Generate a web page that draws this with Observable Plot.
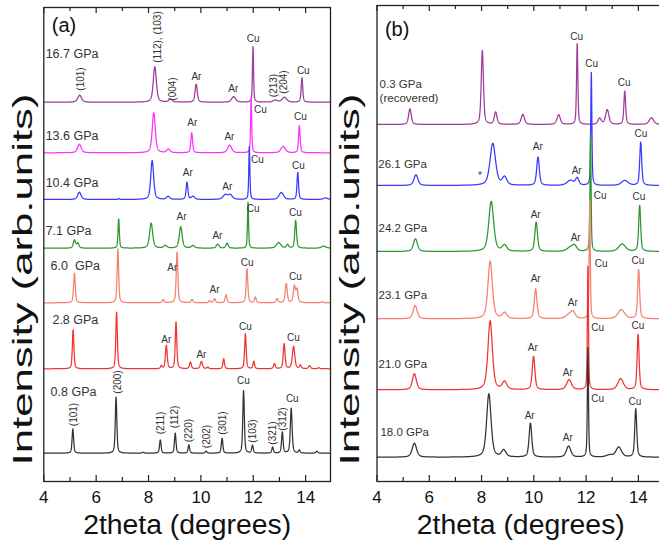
<!DOCTYPE html>
<html><head><meta charset="utf-8">
<script src="https://cdn.jsdelivr.net/npm/d3@7"></script>
<script src="https://cdn.jsdelivr.net/npm/@observablehq/plot@0.6"></script>
<style>
html,body{margin:0;padding:0;background:#fff;overflow:hidden;}
#wrap{position:relative;width:659px;height:544px;overflow:hidden;}
#wrap svg{position:absolute;top:0;}
#wrap text{white-space:pre;}
</style></head><body><div id="wrap"></div>
<script>
// ---------- axis ticks ----------
const ticksMajor = [4, 6, 8, 10, 12, 14];
const ticksMinor = [5, 7, 9, 11, 13];

// ---------- panel (a) ----------
const pressuresA = ["16.7 GPa", "13.6 GPa", "10.4 GPa", "7.1 GPa", "6.0  GPa", "2.8 GPa", "0.8 GPa"];
const offsetsA = [379.3, 328.7, 282, 233.3, 178.7, 112.7, 28.3];
const colorsA = ["#9c3c9c", "#ff30ff", "#3a3aff", "#2f962f", "#f5806e", "#f03434", "#333333"];
const pressureLabelPosA = [[4.07, 428], [4.07, 346], [4.07, 299.3], [4.07, 251], [4.26, 216], [4.33, 162.7], [4.26, 90]];
// peaks: [2theta, height, fwhm]
const peaks167 = [[5.37, 7, 0.17], [8.24, 35.5, 0.14], [8.84, 3, 0.15], [9.82, 18, 0.1], [11.25, 5.5, 0.18], [11.99, 55.7, 0.05], [12.84, 2, 0.2], [13.19, 5, 0.2], [13.86, 24.4, 0.07]];
const peaks136 = [[5.36, 8.5, 0.17], [8.2, 40, 0.14], [8.76, 3.5, 0.15], [9.65, 20, 0.08], [11.1, 7.5, 0.18], [11.92, 55, 0.05], [13.14, 6.3, 0.2], [13.76, 27, 0.07]];
const peaks104 = [[5.36, 7.3, 0.15], [6.86, 1, 0.05], [8.14, 39, 0.13], [8.75, 3, 0.15], [9.47, 17.3, 0.08], [9.7, 3, 0.15], [10.93, 4.5, 0.2], [11.12, 4.5, 0.2], [11.85, 53, 0.05], [13.07, 7, 0.2], [13.7, 27, 0.07], [14.76, 1.5, 0.2]];
const peaks71 = [[5.17, 8, 0.1], [5.3, 5, 0.1], [6.86, 29.3, 0.06], [8.1, 25, 0.14], [8.64, 2.5, 0.15], [9.23, 21.5, 0.13], [9.7, 2.5, 0.15], [10.64, 4, 0.12], [11.0, 5, 0.1], [11.8, 46, 0.05], [12.97, 5.5, 0.2], [13.31, 3.5, 0.1], [13.62, 27.7, 0.08], [14.69, 2, 0.2]];
const peaks60 = [[5.17, 29.7, 0.075], [6.83, 54, 0.07], [8.56, 3.3, 0.08], [9.09, 50.7, 0.075], [9.66, 3.5, 0.08], [10.33, 2, 0.08], [10.52, 4, 0.09], [10.96, 8, 0.08], [11.76, 34, 0.075], [12.08, 5.6, 0.08], [12.91, 4, 0.09], [13.26, 19, 0.09], [13.57, 16.3, 0.09], [13.67, 13, 0.09], [14.63, 1, 0.1]];
const peaks28 = [[5.12, 39, 0.07], [6.78, 56.7, 0.07], [8.49, 3, 0.07], [8.68, 23.3, 0.08], [9.05, 46.7, 0.07], [9.6, 6.7, 0.08], [10.02, 7.3, 0.1], [10.26, 1.5, 0.08], [10.87, 10, 0.07], [11.7, 35, 0.07], [12.02, 7.3, 0.07], [12.81, 5, 0.08], [13.18, 25, 0.08], [13.54, 22.3, 0.11], [13.8, 3.5, 0.08], [14.15, 3, 0.09], [14.5, 1, 0.09]];
const peaks08 = [[5.11, 24.3, 0.07], [6.76, 56, 0.07], [7.8, 0.8, 0.1], [8.45, 13.3, 0.07], [9.02, 20, 0.07], [9.54, 8.3, 0.07], [10.2, 2, 0.07], [10.81, 15, 0.07], [11.63, 62.7, 0.07], [11.97, 7.7, 0.07], [12.74, 6, 0.07], [13.11, 21, 0.07], [13.45, 45, 0.08], [13.76, 3, 0.07], [14.43, 2, 0.08]];
const patternsA = [peaks167, peaks136, peaks104, peaks71, peaks60, peaks28, peaks08];
// [text, 2theta, height, rotation]
const peakLabelsA = [
  ["(101)", 5.40, 402.5, -90], ["(112), (103)", 8.34, 444.5, -90], ["(004)", 8.91, 392.5, -90], ["Ar", 9.83, 405, 0], ["Ar", 11.24, 393, 0], ["Cu", 12.0, 443, 0], ["(213)", 12.77, 396, -90], ["(204)", 13.16, 399.5, -90], ["Cu", 13.91, 411, 0],
  ["Ar", 9.67, 358.3, 0], ["Ar", 11.09, 344.3, 0], ["Cu", 12.27, 372, 0], ["Cu", 13.8, 365, 0],
  ["Ar", 9.5, 308.5, 0], ["Ar", 11.01, 294.3, 0], ["Cu", 12.16, 322, 0], ["Cu", 13.72, 316, 0],
  ["Ar", 9.26, 264.3, 0], ["Ar", 10.63, 245.3, 0], ["Cu", 12.0, 272.7, 0], ["Cu", 13.61, 268.3, 0],
  ["Ar", 8.91, 213.3, 0], ["Ar", 10.52, 191.7, 0], ["Cu", 11.77, 218.7, 0], ["Cu", 13.61, 204.3, 0],
  ["Ar", 8.68, 142, 0], ["Ar", 10.02, 126.7, 0], ["Cu", 11.7, 154.3, 0], ["Cu", 13.53, 143.7, 0],
  ["(101)", 5.13, 67, -90], ["(200)", 6.81, 99.5, -90], ["(211)", 8.45, 58.5, -90], ["(112)", 8.99, 64.5, -90], ["(220)", 9.52, 51, -90], ["(202)", 10.21, 45, -90], ["(301)", 10.82, 58.5, -90], ["Cu", 11.62, 100.3, 0], ["(103)", 11.97, 50.5, -90], ["(321)", 12.73, 48.5, -90], ["(312)", 13.11, 62.5, -90], ["Cu", 13.49, 82.7, 0]
];

// ---------- panel (b) ----------
const pressuresB = ["0.3 GPa\n(recovered)", "26.1 GPa", "24.2 GPa", "23.1 GPa", "21.0 GPa", "18.0 GPa"];
const offsetsB = [357, 296, 230, 162.7, 91.7, 24.3];
const colorsB = ["#9c3c9c", "#3a3aff", "#2f962f", "#f5806e", "#f03434", "#333333"];
const pressureLabelPosB = [[4.1, 391], [4.05, 317.7], [4.06, 253.7], [4.06, 187], [4.06, 117.7], [4.13, 50.3]];
const peaks03 = [[5.26, 15.7, 0.12], [8.03, 74, 0.1], [8.54, 12.3, 0.12], [9.58, 10, 0.15], [10.95, 9.7, 0.15], [11.66, 80.7, 0.06], [12.52, 6, 0.15], [12.81, 14.7, 0.15], [13.48, 33.3, 0.08], [14.5, 6.7, 0.2]];
const peaks261 = [[5.49, 10.7, 0.18], [8.43, 42, 0.25], [8.88, 8, 0.2], [10.16, 28.3, 0.12], [11.4, 5, 0.3], [11.66, 7, 0.15], [12.2, 113, 0.05], [13.48, 5, 0.3], [14.09, 43.3, 0.09]];
const peaks242 = [[5.47, 12.7, 0.18], [8.37, 50, 0.22], [8.88, 6, 0.2], [10.09, 29.3, 0.12], [11.4, 4, 0.3], [11.56, 5, 0.2], [12.17, 116, 0.05], [13.38, 7.5, 0.3], [14.05, 46, 0.09]];
const peaks231 = [[5.46, 13.3, 0.18], [8.33, 57.7, 0.2], [8.88, 5.7, 0.2], [10.07, 30, 0.12], [11.35, 4, 0.3], [11.5, 6, 0.2], [12.14, 118, 0.05], [13.35, 9, 0.3], [14.01, 49, 0.09]];
const peaks210 = [[5.43, 16, 0.18], [8.33, 69, 0.2], [8.88, 7.7, 0.2], [9.99, 33.3, 0.12], [11.35, 10, 0.22], [12.07, 124, 0.05], [13.32, 11, 0.25], [13.99, 55.3, 0.09]];
const peaks180 = [[5.43, 14, 0.2], [8.28, 63.3, 0.2], [8.85, 6.7, 0.2], [9.87, 34, 0.12], [11.33, 11, 0.2], [12.07, 110, 0.05], [12.9, 2, 0.3], [13.25, 10, 0.25], [13.9, 48.3, 0.09]];
const patternsB = [peaks03, peaks261, peaks242, peaks231, peaks210, peaks180];
const peakLabelsB = [
  ["Cu", 11.64, 444.3, 0], ["Cu", 12.21, 417.7, 0], ["Cu", 13.46, 398.3, 0],
  ["*", 7.94, 306, 0], ["Ar", 10.15, 334.3, 0], ["Ar", 11.64, 310.3, 0], ["Cu", 14.1, 347.7, 0],
  ["Ar", 10.07, 266.7, 0], ["Ar", 11.6, 243.3, 0], ["Cu", 12.54, 285.3, 0], ["Cu", 14.02, 284.3, 0],
  ["Ar", 10.07, 202.7, 0], ["Ar", 11.49, 178.3, 0], ["Cu", 12.58, 217.7, 0], ["Cu", 13.98, 221, 0],
  ["Ar", 9.96, 133.7, 0], ["Ar", 11.3, 108.7, 0], ["Cu", 12.44, 153.7, 0], ["Cu", 13.98, 156, 0],
  ["Ar", 9.84, 66, 0], ["Ar", 11.3, 43.7, 0], ["Cu", 12.44, 82.7, 0], ["Cu", 13.87, 79.3, 0]
];

const xTitle = "2theta (degrees)";
const yTitle = "Intensity (arb.units)";
const FONT = "'Liberation Sans', Arial, Helvetica, sans-serif";

// profile sum of the read peaks (pseudo-Voigt shape)
const grid = d3.range(4, 15.0001, 0.004);
function pattern(peaks, offset) {
  return grid.map(x => {
    let y = offset;
    for (const [p, h, w] of peaks) {
      const t = (x - p) / (w / 2), t2 = t * t;
      y += h * (0.5 / (1 + t2) + 0.5 * Math.exp(-0.6931 * t2));
    }
    return {x, y};
  });
}

function panel({width, marginLeft, marginTop, xDomain, yDomain, patterns, offsets, colors, pressures, pressPos, pressSize, peakLabels, tag, yTitleDx, yTitleDy}) {
  const H = 544, marginBottom = 63;
  const inner = H - marginTop - marginBottom;
  const svg = Plot.plot({
    width, height: H, marginLeft, marginRight: 1, marginTop, marginBottom,
    x: {domain: xDomain, label: null},
    y: {domain: yDomain, axis: null},
    style: {fontFamily: FONT, background: "transparent", overflow: "visible", color: "#222"},
    marks: [
      ...patterns.map((pk, i) => Plot.line(pattern(pk, offsets[i]), {x: "x", y: "y", stroke: colors[i], strokeWidth: 1.25, clip: true})),
      Plot.frame({stroke: "#222", strokeWidth: 1.3}),
      Plot.tickX(ticksMajor, {x: d => d, insetTop: inner - 6, stroke: "#222", strokeWidth: 1.2}),
      Plot.tickX(ticksMinor, {x: d => d, insetTop: inner - 4, stroke: "#222", strokeWidth: 1.2}),
      Plot.tickX(ticksMajor, {x: d => d, insetBottom: inner - 6, stroke: "#222", strokeWidth: 1.2}),
      Plot.tickX(ticksMinor, {x: d => d, insetBottom: inner - 4, stroke: "#222", strokeWidth: 1.2}),
      Plot.axisX({anchor: "bottom", ticks: ticksMajor, tickSize: 0, tickPadding: 9, fontSize: 17, tickFormat: d => String(d), fill: "#111", label: null}),
      Plot.text([xTitle], {frameAnchor: "bottom", dy: 44, fontSize: 27, fill: "#111", lineAnchor: "middle"}),
      Plot.text([yTitle], {frameAnchor: "left", rotate: -90, dx: yTitleDx, dy: yTitleDy, fontSize: 28, fill: "#111", lineAnchor: "middle", textAnchor: "start"}),
      Plot.text([tag[0]], {x: tag[1], y: tag[2], fontSize: 20, fill: "#111"}),
      Plot.text(pressures, {x: (d, i) => pressPos[i][0], y: (d, i) => pressPos[i][1], text: d => d, textAnchor: "start", fontSize: pressSize, fill: "#333", lineHeight: 1.2}),
      Plot.text(peakLabels, {x: d => d[1], y: d => d[2], text: d => d[0], rotate: d => d[3], fontSize: 10, fill: "#333"})
    ]
  });
  svg.querySelectorAll("text").forEach(t => {
    if (t.textContent === yTitle) { t.setAttribute("textLength", 372); t.setAttribute("lengthAdjust", "spacingAndGlyphs"); }
    if (t.textContent === xTitle) { t.setAttribute("textLength", 208); t.setAttribute("lengthAdjust", "spacingAndGlyphs"); }
  });
  return svg;
}

const wrap = document.getElementById("wrap");
const svgA = panel({
  width: 331, marginLeft: 43.3, marginTop: 7, xDomain: [4, 14.95], yDomain: [0, 474],
  patterns: patternsA, offsets: offsetsA, colors: colorsA, pressures: pressuresA, pressPos: pressureLabelPosA, pressSize: 12.5,
  peakLabels: peakLabelsA, tag: ["(a)", 4.77, 456], yTitleDx: -21, yTitleDy: 221
});
svgA.style.left = "0px";
const svgB = panel({
  width: 334, marginLeft: 45.5, marginTop: 5, xDomain: [4, 15], yDomain: [0, 476],
  patterns: patternsB, offsets: offsetsB, colors: colorsB, pressures: pressuresB, pressPos: pressureLabelPosB, pressSize: 11.5,
  peakLabels: peakLabelsB, tag: ["(b)", 4.77, 452], yTitleDx: -26.5, yTitleDy: 222
});
svgB.style.left = "331px";
wrap.appendChild(svgB);
wrap.appendChild(svgA);
</script></body></html>
